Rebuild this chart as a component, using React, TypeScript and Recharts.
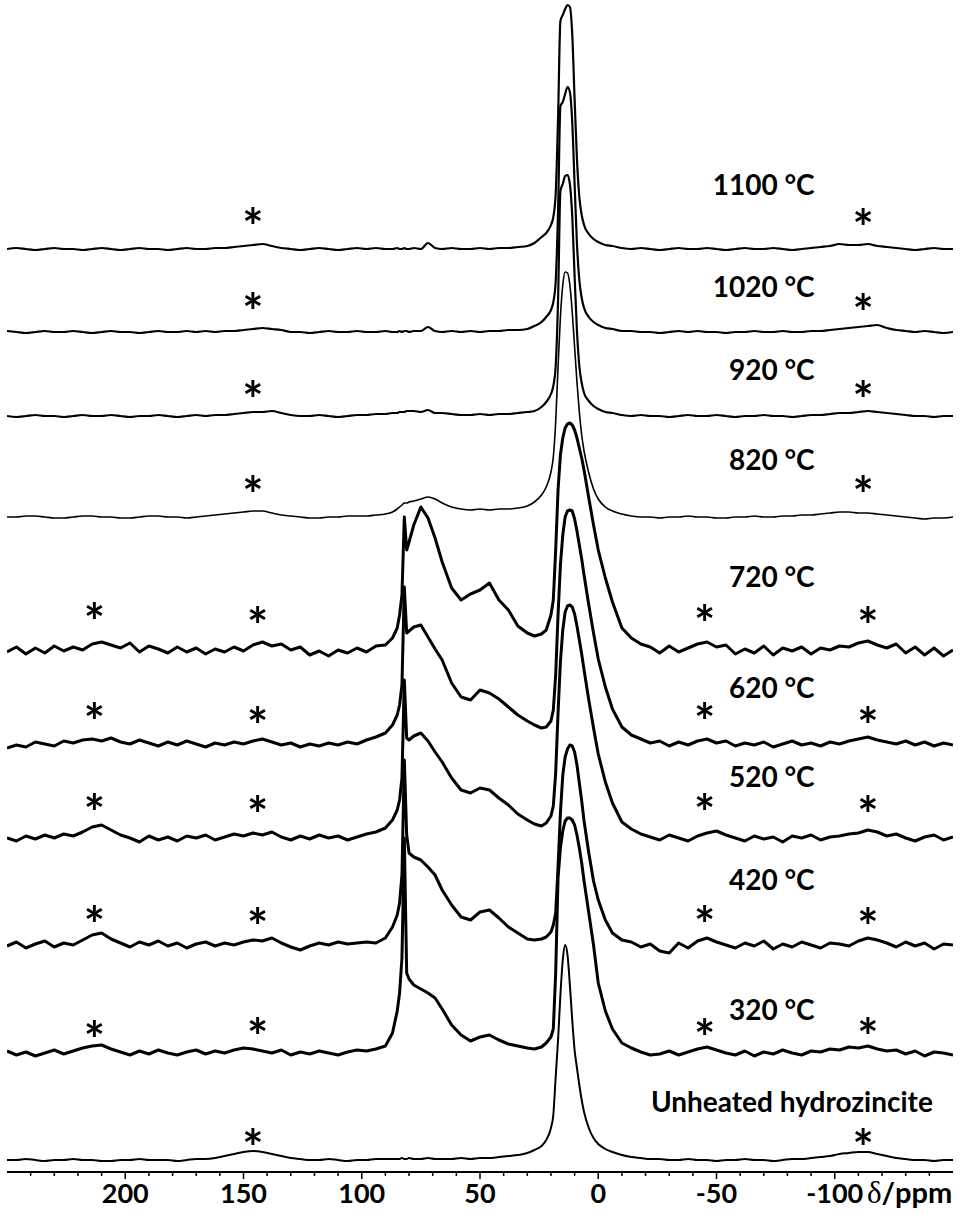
import { LineChart, Line, XAxis, YAxis, ReferenceDot } from "recharts";

const FONT = "Lato, 'Open Sans', sans-serif";

// chemical shift grid (ppm), shared by every spectrum
const ppm = [
  250, 246, 242, 238, 234, 230, 226, 222, 218, 214, 210, 206, 202, 198, 194, 190, 186, 182, 178, 174, 170,
  166, 162, 158, 154, 150, 146, 142, 138, 134, 130, 126, 122, 118, 114, 110, 106, 102, 98, 94, 90,
  87, 85, 84, 83, 82, 81, 80, 78, 75, 72, 69,
  66, 62, 58, 54, 50, 46, 42, 38, 34, 30,
  27, 24, 22, 20, 19, 18, 17, 16, 15, 14, 13, 12, 11, 10, 9, 8, 7, 6, 4, 2, 0, -3, -6, -10,
  -14, -18, -22, -26, -30, -34, -38, -42, -46, -50, -54, -58, -62, -66, -70, -74, -78, -82, -86, -90,
  -94, -98, -102, -106, -110, -114, -118, -122, -126, -130, -134, -138, -142, -146, -150,
];

const s1100 = [
  0, 1, 0, -1, 0, 1, 0, 0, -1, 0, 1, 0, -1, 0, 1, 0, 0, -1, 0, 1, 0, 0, 1, 1, 2, 3, 4, 5, 3, 1, 0, -1, 0, 1, 0, -1, 0, 1, 0, 1, 0,
  0, 1, 0, 0, 1, 0, 0, 1, 0, 6, 1,
  0, 1, 0, 0, 1, 0, 1, 1, 2, 3,
  6, 12, 16, 24, 32, 55, 130, 228, 234, 240, 244, 242, 215, 150, 90, 52, 34, 24, 15, 10, 7, 4, 3, 1,
  0, 1, 0, -1, 0, 1, 0, 0, 1, 0, -1, 0, 1, 0, 0, 1, 0, -1, 0, 1, 2, 3, 5, 4, 4, 5, 3, 2, 1, 0, -1, 0, 1, 0, 0,
];
const s1020 = [
  1, 0, -1, 0, 1, 0, 0, 1, 0, -1, 0, 1, 0, 0, -1, 0, 1, 0, 0, 1, 0, 1, 0, 1, 1, 2, 3, 4, 3, 2, 0, 0, -1, 0, 1, 0, 0, 1, 0, 0, 1,
  0, 0, 1, 0, 1, 1, 0, 1, 1, 5, 1,
  0, 1, 0, 1, 0, 1, 1, 2, 2, 3,
  6, 10, 15, 22, 30, 50, 120, 226, 230, 238, 245, 240, 210, 148, 88, 52, 34, 24, 15, 10, 7, 4, 3, 1,
  1, 0, 0, -1, 0, 1, 0, 1, 0, 0, -1, 0, 0, 1, 0, 0, 1, 0, 0, 1, 1, 2, 3, 4, 5, 6, 7, 4, 2, 1, 0, 1, 0, -1, 0,
];
const s920 = [
  0, -1, 0, 1, 0, 0, -1, 0, 1, 0, 0, 1, 0, -1, 0, 0, 1, 0, -1, 0, 1, 0, 1, 1, 2, 3, 4, 4, 5, 3, 1, 0, 0, 1, 0, -1, 0, 1, 1, 2, 2,
  3, 3, 4, 4, 4, 5, 5, 5, 4, 6, 3,
  3, 2, 1, 1, 2, 1, 2, 2, 3, 4,
  5, 9, 14, 22, 30, 50, 115, 225, 232, 240, 241, 232, 200, 140, 85, 50, 33, 23, 15, 10, 7, 4, 3, 1,
  0, 1, 0, 0, -1, 0, 1, 0, 0, 1, 0, -1, 0, 0, 1, 0, 0, -1, 0, 1, 1, 2, 3, 3, 4, 5, 4, 3, 2, 1, 0, 0, -1, 0, 0,
];
const s820 = [
  0, 0, 1, 1, 0, -1, -1, 0, 1, 1, 0, 0, -1, -1, 0, 1, 1, 0, 0, -1, 0, 1, 2, 3, 4, 5, 6, 6, 4, 2, 1, 0, -1, -1, 0, 0, 1, 1, 1, 2, 3,
  5, 8, 10, 12, 14, 14, 15, 16, 18, 20, 18,
  14, 10, 8, 7, 8, 7, 8, 8, 9, 11,
  15, 22, 30, 45, 60, 95, 150, 200, 232, 245, 244, 232, 205, 170, 135, 105, 82, 66, 44, 28, 18, 10, 6, 3,
  1, 0, 0, -1, 0, 0, 1, 0, 0, -1, -1, 0, 0, 1, 0, 0, 1, 1, 2, 2, 3, 4, 5, 5, 4, 4, 3, 2, 1, 0, -1, -2, -1, -1, 0,
];
const s720 = [
  -2, 3, -4, 2, -3, 4, -1, 3, 0, 6, 8, 5, 2, 7, -2, 4, 1, -3, 3, -2, 2, -4, 1, -2, 3, -1, 5, 8, 4, 6, 0, 3, -5, -1, -6, 0, -3, 2, -2, 4, 5,
  12, 22, 35, 55, 133, 100, 108, 125, 143, 132, 112,
  88, 62, 50, 56, 60, 67, 50, 40, 24, 17,
  14, 16, 20, 35, 50, 100, 160, 195, 212, 222, 226, 227, 225, 220, 212, 202, 192, 180, 152, 125, 100, 72, 48, 22,
  12, 6, 3, -3, 4, -2, 2, 6, 8, 3, 5, -4, 1, -3, 4, -5, 2, -1, 3, -4, 2, 0, 4, 3, 7, 9, 5, 2, 6, -3, 3, -5, 2, -6, 0,
];
const s620 = [
  -3, 0, -2, 3, 1, -1, 4, 2, 5, 6, 4, 7, 3, 1, 5, 2, -1, 3, 0, 4, 1, -2, 2, 0, 3, 1, 4, 6, 3, 0, 2, -2, 1, -1, 2, 0, 3, 1, 5, 8, 12,
  20, 30, 40, 60, 158, 112, 114, 118, 120, 108, 96,
  85, 62, 48, 45, 55, 52, 46, 38, 30, 24,
  20, 17, 18, 24, 35, 70, 130, 180, 210, 228, 234, 235, 234, 226, 214, 200, 186, 170, 140, 112, 86, 58, 36, 18,
  10, 6, 2, 4, -1, 3, 0, 4, 6, 2, 4, -1, 2, 0, 3, -2, 1, 4, 0, 2, -1, 3, 1, 4, 6, 8, 5, 3, 1, 4, 0, 3, -1, 2, 0,
];
const s520 = [
  0, -3, 2, -1, 3, 0, 4, 2, 6, 11, 13, 8, 3, 0, -4, 2, -2, 1, -3, 2, 0, 3, -2, 1, 4, 2, 5, 3, 6, 1, -2, 2, -1, 3, 0, 2, -2, 1, 4, 6, 10,
  18, 28, 38, 60, 158, 100, 98, 102, 105, 97, 86,
  76, 60, 48, 45, 50, 48, 40, 33, 24, 18,
  14, 12, 15, 22, 32, 65, 125, 176, 208, 226, 232, 233, 231, 224, 212, 198, 184, 168, 138, 110, 84, 56, 35, 16,
  9, 4, 1, -2, 3, 0, -3, 2, 5, 7, 3, 0, -3, 2, -1, 1, -4, 2, 0, 3, -2, 1, 2, 4, 5, 8, 6, 2, 4, 0, -3, 1, 3, -2, 1,
];
const s420 = [
  -1, 3, -3, 1, 4, -2, 2, 0, 5, 10, 12, 6, 2, -2, 3, 0, 4, -1, 2, -3, 1, 3, -1, 2, 0, 3, 5, 4, 7, 2, -2, -5, -1, 2, 0, 3, 1, 2, 3, 2, 7,
  18, 30, 42, 70, 185, 110, 92, 88, 85, 78, 70,
  55, 40, 28, 25, 33, 35, 27, 18, 12, 6,
  5, 6, 8, 13, 20, 32, 78, 132, 170, 188, 196, 200, 199, 193, 180, 162, 144, 124, 92, 64, 45, 25, 12, 5,
  3, -2, 1, -6, -8, 2, -3, 4, 7, 3, 0, -3, 2, -1, 4, -4, 1, -2, 3, 0, -3, 2, 1, -1, 4, 7, 5, 2, -2, 3, -1, 2, -4, 1, 0,
];
const s320 = [
  2, -2, 1, -3, 0, 3, -1, 2, 5, 7, 8, 4, 1, -2, 2, -1, 3, 0, -2, 1, 3, -1, 2, 0, 3, 5, 4, 2, 0, 3, -2, 1, -1, 2, 0, -2, 1, 3, 2, 4, 7,
  20, 42, 60, 95, 215, 80, 74, 68, 64, 60, 55,
  44, 28, 18, 12, 16, 18, 13, 9, 7, 5,
  4, 6, 10, 16, 24, 80, 175, 205, 222, 232, 235, 235, 233, 228, 218, 205, 190, 172, 140, 108, 70, 42, 24, 10,
  5, 1, -2, -1, 2, -2, 1, 4, 6, 3, 0, -2, 2, -3, 1, -1, 3, 0, -2, 2, 1, 4, 3, 6, 5, 7, 4, 2, 3, -1, 2, -3, 1, 0, -2,
];
const sUnheated = [
  0, 0, 1, 0, -1, 0, 0, 1, 0, 0, -1, -1, 0, 0, 1, 0, 0, 0, -1, 0, 1, 1, 2, 4, 6, 8, 9, 8, 6, 4, 2, 1, 0, 0, 1, 0, -1, 0, 0, 1, 1,
  1, 1, 1, 2, 1, 1, 2, 1, 1, 2, 1,
  1, 1, 2, 1, 2, 2, 3, 4, 5, 7,
  10, 14, 20, 32, 45, 83, 120, 165, 200, 215, 205, 175, 140, 110, 92, 75, 60, 48, 32, 22, 16, 11, 8, 5,
  3, 2, 1, 1, 0, 0, 1, 0, 0, -1, 0, 0, 1, 0, 0, -1, 0, 1, 1, 2, 3, 4, 6, 7, 8, 8, 6, 4, 2, 1, 0, 0, -1, 0, 0,
];

const names = ["1100 °C", "1020 °C", "920 °C", "820 °C", "720 °C", "620 °C", "520 °C", "420 °C", "320 °C", "Unheated hydrozincite"];
const spectra = [s1100, s1020, s920, s820, s720, s620, s520, s420, s320, sUnheated];
// vertical stacking offset of each trace
const offsets = [923, 840, 756, 655, 522, 427, 334, 227, 119, 12];
// trace label anchor (right end, ppm) and baseline height
const labelPpm = [-91.5, -91.5, -91.5, -91.5, -91.5, -91.5, -91.5, -91.5, -91.5, -141.5];
const labelY = [977, 875, 792, 702, 585, 474, 385, 282, 152, 60];
// spinning sideband markers [ppm, height]
const stars: number[][][] = [
  [[146, 955], [-112, 954]],
  [[146, 870], [-112, 869]],
  [[146, 782], [-112, 782]],
  [[146, 687], [-112, 687]],
  [[213, 560], [144, 556], [-45, 558], [-114, 556]],
  [[213, 460], [144, 456], [-45, 460], [-114, 456]],
  [[213, 369], [144, 367], [-45, 369], [-114, 367]],
  [[213, 257], [144, 255], [-45, 257], [-114, 255]],
  [[213, 142], [144, 145], [-45, 144], [-114, 145]],
  [[146, 34], [-112, 34]],
];
const axisTicks = [240, 230, 220, 210, 200, 190, 180, 170, 160, 150, 140, 130, 120, 110, 100, 90, 80, 70, 60, 50, 40, 30, 20, 10, 0,
  -10, -20, -30, -40, -50, -60, -70, -80, -90, -100, -110, -120, -130, -140];

const widths = [2.2, 2.2, 2.2, 1.6, 3, 3, 3, 3, 3, 2];

const rows = ppm.map((x, i) => {
  const r: Record<string, number> = { x };
  spectra.forEach((s, k) => {
    r[`s${k}`] = offsets[k] + s[i];
  });
  return r;
});

function PpmTick(props: any) {
  const { x, y, payload } = props;
  const v = payload.value as number;
  const major = v % 50 === 0;
  return (
    <g>
      <line x1={x} x2={x} y1={y} y2={y + (major ? 7 : 4)} stroke="#000" strokeWidth={1.5} />
      {major && (
        <text x={x} y={y + 31} textAnchor="middle" fontFamily={FONT} fontWeight={700} fontSize={27} fill="#000">
          {String(v)}
        </text>
      )}
    </g>
  );
}

const unitLabel = (props: any) => {
  const vb = props.viewBox;
  return (
    <text x={vb.x + vb.width - 86} y={vb.y + 31} fontFamily={FONT} fontWeight={700} fontSize={29} fill="#000">
      <tspan fontFamily="'Liberation Serif', serif" fontWeight={400} fontSize={31}>δ</tspan>
      <tspan>/ppm</tspan>
    </text>
  );
};

export default function App() {
  return (
    <div style={{ width: 970, height: 1214, background: "#fff" }}>
      <style>{"body{margin:0}"}</style>
      <LineChart width={970} height={1214} data={rows} margin={{ top: 0, right: 17, bottom: 0, left: 7 }}>
        <XAxis
          type="number"
          dataKey="x"
          domain={[-150, 250]}
          reversed
          ticks={axisTicks}
          interval={0}
          tickSize={0}
          tickMargin={0}
          tickLine={false}
          axisLine={{ stroke: "#000", strokeWidth: 2 }}
          height={42}
          tick={PpmTick}
          allowDataOverflow
          label={{ content: unitLabel }}
        />
        <YAxis hide type="number" domain={[0, 1172]} allowDataOverflow />
        {spectra.map((_, k) => (
          <Line
            key={k}
            dataKey={`s${k}`}
            type={k >= 4 && k <= 8 ? "linear" : "monotoneX"}
            stroke="#000"
            strokeWidth={widths[k]}
            strokeLinejoin="round"
            dot={false}
            activeDot={false}
            isAnimationActive={false}
          />
        ))}
        {names.map((n, k) => (
          <ReferenceDot
            key={`lab${k}`}
            x={labelPpm[k]}
            y={labelY[k]}
            r={0}
            ifOverflow="visible"
            shape={(p: any) => (
              <text x={p.cx} y={p.cy} textAnchor="end" fontFamily={FONT} fontWeight={700} fontSize={28} fill="#000">
                {n}
              </text>
            )}
          />
        ))}
        {stars.flatMap((list, k) =>
          list.map(([sx, sy], j) => (
            <ReferenceDot
              key={`st${k}-${j}`}
              x={sx}
              y={sy}
              r={0}
              ifOverflow="visible"
              shape={(p: any) => (
                <text x={p.cx} y={p.cy + 28} textAnchor="middle" fontFamily={FONT} fontWeight={700} fontSize={50} fill="#000">
                  *
                </text>
              )}
            />
          ))
        )}
      </LineChart>
    </div>
  );
}
